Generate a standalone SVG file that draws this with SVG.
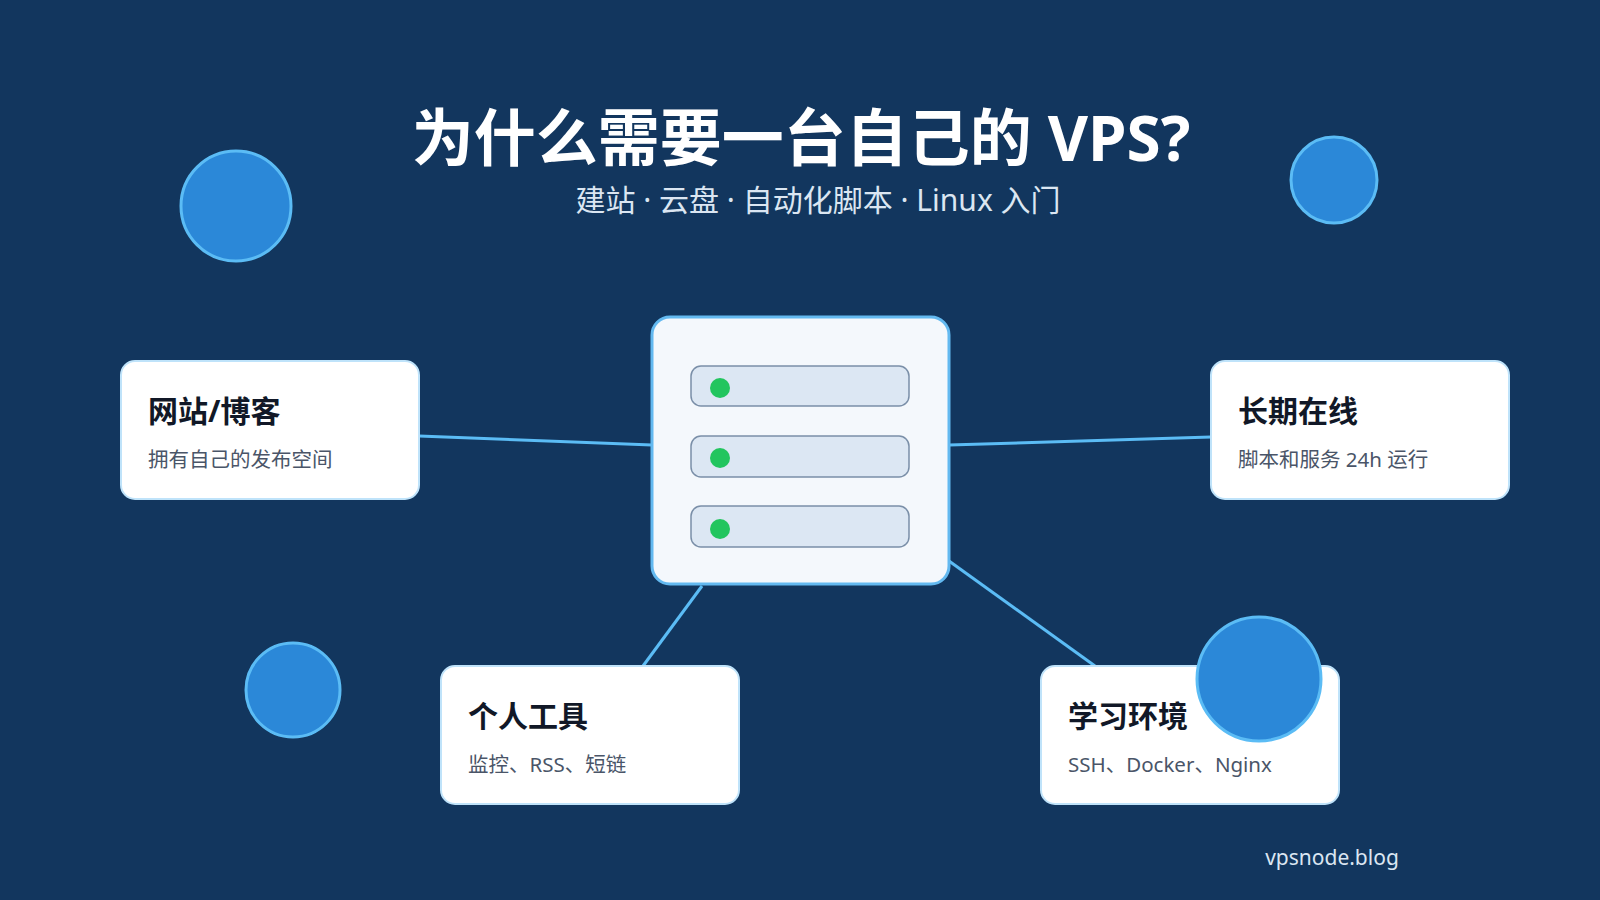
<svg xmlns="http://www.w3.org/2000/svg" width="1600" height="900" viewBox="0 0 1600 900">
<style>
.f{font-family:"Noto Sans","Noto Sans CJK SC",sans-serif}
.card{fill:#fff;stroke:#bfe3fa;stroke-width:2}
.ct{font-size:30px;font-weight:700;fill:#111827}
.cs{font-size:20.5px;fill:#4a5568}
.bar{fill:#dce7f3;stroke:#7a8fa8;stroke-width:1.5}
.dot{fill:#22c55e}
.deco{fill:#2b88d8;stroke:#5bbcf5;stroke-width:3}
.con{stroke:#5bbcf5;stroke-width:3;fill:none}
</style>
<rect width="1600" height="900" fill="#12365e"/>
<text class="f" x="801" y="161" text-anchor="middle" font-size="62" font-weight="700" fill="#fff">为什么需要一台自己的 VPS?</text>
<text class="f" x="818" y="211" text-anchor="middle" font-size="30" fill="#dbe6f2">建站 · 云盘 · 自动化脚本 · Linux 入门</text>
<g id="connectors">
<line class="con" x1="419" y1="436" x2="652" y2="445"/>
<line class="con" x1="949" y1="445" x2="1211" y2="437"/>
<line class="con" x1="702" y1="586" x2="643" y2="666"/>
<line class="con" x1="949" y1="561" x2="1095" y2="666"/>
</g>
<g id="card-web"><rect class="card" x="121" y="361" width="298" height="138" rx="14"/>
<text class="f ct" x="148" y="422">网站/博客</text><text class="f cs" x="148" y="467">拥有自己的发布空间</text></g>
<g id="card-online"><rect class="card" x="1211" y="361" width="298" height="138" rx="14"/>
<text class="f ct" x="1238" y="422">长期在线</text><text class="f cs" x="1238" y="467">脚本和服务 24h 运行</text></g>
<g id="card-tools"><rect class="card" x="441" y="666" width="298" height="138" rx="14"/>
<text class="f ct" x="468" y="727">个人工具</text><text class="f cs" x="468" y="772">监控、RSS、短链</text></g>
<g id="card-learn"><rect class="card" x="1041" y="666" width="298" height="138" rx="14"/>
<text class="f ct" x="1068" y="727">学习环境</text><text class="f cs" x="1068" y="772">SSH、Docker、Nginx</text></g>
<g id="server">
<rect x="652" y="317" width="297" height="267" rx="18" fill="#f4f8fc" stroke="#63b9f0" stroke-width="3"/>
<rect class="bar" x="691" y="366" width="218" height="40" rx="10"/><circle class="dot" cx="720" cy="388" r="10"/>
<rect class="bar" x="691" y="436" width="218" height="41" rx="10"/><circle class="dot" cx="720" cy="458" r="10"/>
<rect class="bar" x="691" y="506" width="218" height="41" rx="10"/><circle class="dot" cx="720" cy="529" r="10"/>
</g>
<g id="decor">
<circle class="deco" cx="236" cy="206" r="55"/>
<circle class="deco" cx="1334" cy="180" r="43"/>
<circle class="deco" cx="293" cy="690" r="47"/>
<circle class="deco" cx="1259" cy="679" r="62"/>
</g>
<text class="f" x="1332" y="865" text-anchor="middle" font-size="21" fill="#dbe6f2">vpsnode.blog</text>
</svg>
